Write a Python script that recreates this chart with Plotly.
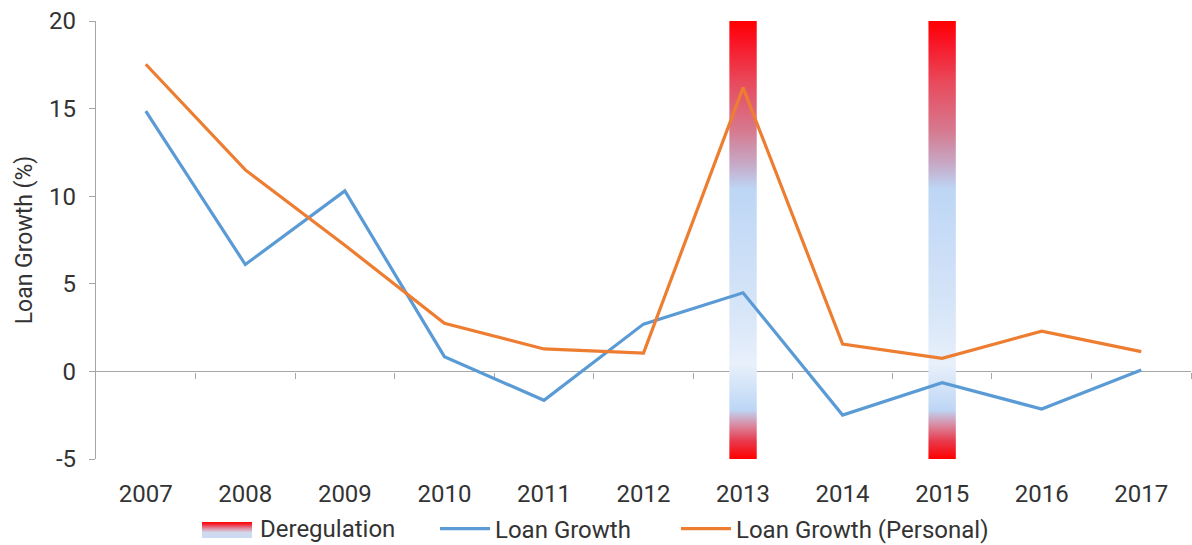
import plotly.graph_objects as go

# Annual loan growth rates (%)
years = [2007, 2008, 2009, 2010, 2011, 2012, 2013, 2014, 2015, 2016, 2017]
year_labels = [str(y) for y in years]
loan_growth = [14.85, 6.1, 10.3, 0.84, -1.65, 2.7, 4.49, -2.49, -0.64, -2.15, 0.08]
loan_growth_personal = [17.53, 11.5, 7.2, 2.75, 1.28, 1.05, 16.2, 1.56, 0.75, 2.3, 1.13]

# Years with a deregulation event
dereg_years = [2013, 2015]

# Value axis
y_ticks = [-5, 0, 5, 10, 15, 20]
y_tick_text = ["-5", "0", "5", "10", "15", "20"]
y_min, y_max = y_ticks[0], y_ticks[-1]

W, H = 1192, 545
M_L, M_R, M_T = 96, 1, 21
PLOT_BOTTOM_PX = 459          # bottom of the value axis, in pixels from the top
AREA_H = H - M_T              # plotting area runs to the bottom edge
Y_DOMAIN_LO = (H - PLOT_BOTTOM_PX) / AREA_H
AREA_W = W - M_L - M_R

BAR_W = 0.275
AXIS_GREY = "#a6a6a6"
TEXT = "#333333"
FONT = "Roboto"
FS = 24
LEGEND_Y_PX = 529


def px_x(px):
    return (px - M_L) / AREA_W


def px_y(px):
    return (H - px) / AREA_H


# Red at both ends, fading into pale blue across the middle of each band
dereg_scale = [
    [0.000, "#ff0000"],
    [0.040, "#e8384a"],
    [0.080, "#d890a8"],
    [0.112, "#bdd6f5"],
    [0.216, "#e8f0fb"],
    [0.330, "#d8e6f8"],
    [0.616, "#bdd6f5"],
    [0.672, "#c6aac8"],
    [0.748, "#d67a90"],
    [0.860, "#e84a5c"],
    [0.960, "#fa1020"],
    [1.000, "#ff0000"],
]
# Legend swatch: red on top fading to pale blue
swatch_scale = [
    [0.00, "#c9dcf4"],
    [0.35, "#d2d8ec"],
    [0.60, "#e08ca0"],
    [0.85, "#f02838"],
    [1.00, "#ff0000"],
]

# Closed rectangles for each deregulation band
band_x, band_y = [], []
for yr in dereg_years:
    x0, x1 = yr - BAR_W / 2, yr + BAR_W / 2
    band_x += [x0, x1, x1, x0, x0, None]
    band_y += [y_min, y_min, y_max, y_max, y_min, None]

fig = go.Figure()

fig.add_trace(go.Scatter(
    x=band_x, y=band_y, mode="none", fill="toself",
    fillgradient=dict(type="vertical", colorscale=dereg_scale,
                      start=y_min, stop=y_max),
    name="Deregulation", hoverinfo="skip", showlegend=False,
))
# Growth lines sit on the zero-line axis so they draw above the bands
fig.add_trace(go.Scatter(
    x=years, y=loan_growth, mode="lines", name="Loan Growth",
    line=dict(color="#5b9bd5", width=3.2), legend="legend", xaxis="x2",
))
fig.add_trace(go.Scatter(
    x=years, y=loan_growth_personal, mode="lines", name="Loan Growth (Personal)",
    line=dict(color="#ed7d31", width=3.2), legend="legend2", xaxis="x2",
))
# Gradient key for the deregulation bands
fig.add_trace(go.Scatter(
    x=[0, 1, 1, 0, 0], y=[0, 0, 1, 1, 0], xaxis="x3", yaxis="y3",
    mode="none", fill="toself",
    fillgradient=dict(type="vertical", colorscale=swatch_scale, start=0, stop=1),
    hoverinfo="skip", showlegend=False,
))

x_range = [years[0] - 0.5, years[-1] + 0.5]
boundaries = [y + 0.5 for y in years]
zero_pos = Y_DOMAIN_LO + (0 - y_min) / (y_max - y_min) * (1 - Y_DOMAIN_LO)

legend_common = dict(
    orientation="h", xanchor="left", yref="paper",
    y=px_y(LEGEND_Y_PX), yanchor="middle",
    font=dict(family=FONT, size=FS, color=TEXT),
    itemwidth=50, bgcolor="rgba(0,0,0,0)",
)

fig.update_layout(
    width=W, height=H,
    margin=dict(l=M_L, r=M_R, t=M_T, b=0, autoexpand=False),
    paper_bgcolor="white", plot_bgcolor="white",
    font=dict(family=FONT, size=FS, color=TEXT),
    showlegend=True,
    legend=dict(x=px_x(442 - 7), **legend_common),
    legend2=dict(x=px_x(683 - 7), **legend_common),
    xaxis=dict(
        range=x_range, tickvals=years, ticktext=year_labels,
        showline=False, ticks="", showgrid=False, zeroline=False,
        ticklabelstandoff=18,
        tickfont=dict(family=FONT, size=FS, color=TEXT),
    ),
    # Category axis drawn along the zero line, with ticks between years
    xaxis2=dict(
        overlaying="x", anchor="free", position=zero_pos,
        matches="x", range=x_range, tickvals=boundaries,
        showticklabels=False, showline=True, linecolor=AXIS_GREY, linewidth=1.3,
        ticks="outside", ticklen=6, tickcolor=AXIS_GREY, tickwidth=1.3,
        showgrid=False, zeroline=False, layer="below traces",
    ),
    yaxis=dict(
        domain=[Y_DOMAIN_LO, 1],
        range=[y_min, y_max], tickvals=y_ticks, ticktext=y_tick_text,
        showline=True, linecolor=AXIS_GREY, linewidth=1.3,
        ticks="outside", ticklen=6, tickcolor=AXIS_GREY, tickwidth=1.3,
        showgrid=False, zeroline=False, ticklabelstandoff=8,
        tickfont=dict(family=FONT, size=FS, color=TEXT),
        title=dict(text="Loan Growth (%)", standoff=10,
                   font=dict(family=FONT, size=23, color=TEXT)),
        layer="below traces",
    ),
    xaxis3=dict(domain=[px_x(202), px_x(252)], range=[0, 1], visible=False,
                fixedrange=True, anchor="y3"),
    yaxis3=dict(domain=[px_y(538), px_y(522)], range=[0, 1], visible=False,
                fixedrange=True, anchor="x3"),
    annotations=[dict(
        text="Deregulation", xref="paper", yref="paper",
        x=px_x(258), y=px_y(LEGEND_Y_PX), xanchor="left", yanchor="middle",
        showarrow=False, font=dict(family=FONT, size=FS, color=TEXT),
    )],
)

fig.write_html("out.html")
